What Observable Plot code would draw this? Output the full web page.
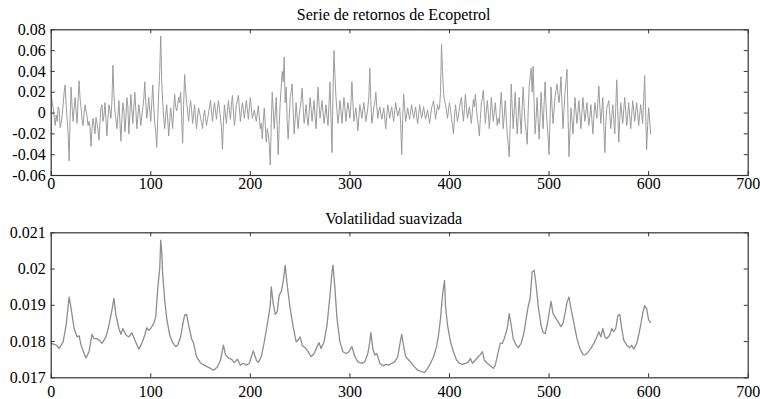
<!DOCTYPE html>
<html><head><meta charset="utf-8">
<script src="https://cdn.jsdelivr.net/npm/d3@7"></script>
<script src="https://cdn.jsdelivr.net/npm/@observablehq/plot@0.6"></script>
<style>
body{margin:0;background:#fff;}
#chart svg{display:block;}
#chart svg, #chart svg text{font-family:'Liberation Serif','Times New Roman',serif !important;font-variant:normal !important;}
</style></head><body><div id="chart"></div>
<script>
const title1 = "Serie de retornos de Ecopetrol";
const title2 = "Volatilidad suavizada";
const xTicks = [0, 100, 200, 300, 400, 500, 600, 700];
const retTicks = [-0.06, -0.04, -0.02, 0, 0.02, 0.04, 0.06, 0.08];
const volTicks = [0.017, 0.018, 0.019, 0.020, 0.021];

// returns (in thousandths), one value per observation starting at 0
const retMilli = [
  18, 10, 5, -4, -12, -2, -8, 6, 3, -14,
  -10, -2, 8, 20, 27, 8, -5, -20, -46, -5,
  25, 6, -8, 4, 15, 2, -10, 12, 31, 14,
  5, -6, -12, 0, 8, 2, -3, -12, -8, -14,
  -32, -15, -5, -12, -20, -4, -10, -16, -26, -8,
  5, 8, -8, -2, 10, -6, -22, -5, 8, 3,
  -5, 12, 46, 18, 2, -6, -15, -3, 12, -8,
  -27, -5, 10, 2, -18, -4, 15, 6, -20, -2,
  18, 4, -10, 6, 20, 3, -15, -4, 8, 0,
  -12, -3, 5, 14, 30, 10, -5, 4, 15, 2,
  -8, 10, 27, 6, -10, -18, -33, -6, 20, 40,
  74, 30, 10, -4, -15, -2, 8, -6, -22, -8,
  5, -4, -15, 4, 18, 6, 2, 8, 15, 10,
  20, -5, -29, 8, 37, 22, 10, 2, -8, 4,
  12, 3, -10, -2, 8, -5, -15, -3, 5, 1,
  -5, -9, -15, -4, 3, -5, -12, -6, 0, 6,
  12, 2, -8, 3, 10, 2, -6, 5, 12, 4,
  -5, -14, -35, -8, 8, -2, -10, 3, 12, 2,
  -6, 8, 17, 2, -12, -3, 8, 12, 17, 5,
  -8, 2, 10, 3, -5, 4, 12, 3, -6, 5,
  15, 5, -5, -1, 3, -3, -8, 0, 7, -4,
  -15, -10, -25, -8, 5, -12, -28, -15, -20, -30,
  -50, -10, 20, 2, -15, 0, 15, -12, -40, -12,
  10, 25, 40, 30, 54, 10, 25, -8, -25, -5,
  15, 20, 28, 2, -20, -6, 10, -4, -15, -3,
  5, 12, 24, 6, -10, -2, 8, -4, -12, 0,
  15, 4, -8, 2, 12, -3, -15, 6, 25, 8,
  -5, 3, 12, 1, -10, -2, 8, -4, -12, 8,
  30, -5, -38, 20, 60, 35, 15, 2, -10, 0,
  12, 2, -10, 3, 15, 4, -8, 2, 10, 3,
  -5, 8, 30, 10, -8, -2, 5, -6, -17, -4,
  8, 2, -5, 3, 10, 1, -8, -2, 5, 15,
  43, 12, -10, -3, 5, 10, 20, 6, -5, 2,
  6, 0, -6, -1, 5, -5, -15, -3, 8, 2,
  -5, 1, 6, -2, -8, 2, 10, 3, -3, 1,
  5, -10, -40, -6, 18, 5, -8, -2, 5, -1,
  -6, 2, 8, 1, -5, 0, 6, -3, -10, -2,
  8, 2, -5, 0, 6, 0, -6, -2, 3, -4,
  -10, -3, 5, 8, 12, 3, -6, 1, 8, 3,
  5, 20, 66, 40, 20, 12, 8, 2, -5, 3,
  10, 3, -5, -12, -20, -4, 8, 0, -8, -2,
  5, 10, 15, 2, -8, 4, 18, 6, -5, 0,
  6, -2, -10, 2, 13, 6, 18, 5, -5, -12,
  -22, -6, 10, 14, 22, 5, -10, 2, 12, 0,
  -15, -2, 15, 4, -8, 1, 10, -2, -12, -5,
  -10, 6, 20, 3, -15, -2, 12, -4, -20, -30,
  -42, -10, 28, 5, -15, 3, 20, -2, -20, -3,
  15, -4, -20, 5, 25, 6, -10, -18, -30, 0,
  25, 35, 43, 20, 45, 10, -20, -5, 15, -6,
  -25, -4, 20, 2, -15, 8, 30, 8, -10, -22,
  -40, -5, 25, 6, -10, 3, 15, 22, 28, 18,
  10, 20, 35, 8, -15, 2, 20, 30, 42, 0,
  -42, -18, 5, -6, -20, -4, 15, 2, -10, 1,
  12, -2, -15, 0, 15, 3, -8, 1, 10, -2,
  -12, -3, 8, -6, -20, -4, 10, 2, -5, 10,
  26, 6, -10, 3, 15, -12, -38, -10, 5, 8,
  12, -2, -15, -3, 8, -6, -20, 6, 32, 2,
  -28, -6, 10, 0, -10, 3, 15, 1, -12, -2,
  10, -3, -15, -2, 12, 2, -8, 1, 10, 0,
  -12, -2, 8, 0, -10, 12, 36, 0, -35, -12,
  5, -6, -20
];

const volX = [
  0,5,8,12,15,18,20,23,26,28,30,33,35,38,41,43,46,48,51,55,58,61,63,65,68,70,72,75,78,81,84,88,91,94,96,98,
  100,103,105,107,109,110,111,112,114,116,119,122,125,127,130,132,134,136,138,141,143,146,150,155,160,163,167,
  170,173,175,178,181,184,187,190,193,196,199,201,203,206,208,211,214,216,218,220,221,223,225,227,229,231,233,
  235,237,240,243,246,248,250,252,255,258,261,264,267,269,271,274,277,280,282,283,285,287,290,293,296,299,
  302,305,308,312,315,318,320,321,323,325,327,330,333,336,339,342,345,348,350,352,354,356,359,362,365,368,
  372,375,378,381,384,387,389,391,393,395,396,398,401,404,407,410,413,416,419,421,423,426,429,431,433,435,
  438,441,444,446,449,451,453,455,458,460,462,464,467,469,472,475,477,479,481,483,485,487,489,492,494,496,
  498,500,502,504,506,508,510,512,514,516,518,520,522,525,528,531,534,536,539,542,545,548,550,552,554,556,
  558,561,563,565,567,569,571,573,575,578,581,583,585,588,590,592,594,596,598,600,602
];
const volY = [
  .01795,.01790,.01781,.01799,.01845,.01923,.01891,.01836,.01813,.01816,.01790,.01767,.01755,.01772,.01820,.01808,.01808,.01804,.01795,.01813,.01845,.01887,.01919,.01873,.01836,.01820,.01836,.01818,.01813,.01824,.01804,.01779,.01795,.01818,.01838,.01831,
  .01836,.01850,.01868,.01946,.02002,.02080,.02048,.01983,.01914,.01864,.01818,.01797,.01786,.01790,.01813,.01845,.01873,.01875,.01845,.01808,.01795,.01758,.01741,.01733,.01726,.01721,.01730,
  .01749,.01790,.01764,.01755,.01751,.01742,.01751,.01735,.01740,.01735,.01740,.01758,.01774,.01749,.01742,.01758,.01799,.01831,.01864,.01900,.01951,.01905,.01875,.01882,.01928,.01937,.01965,
  .02011,.01956,.01891,.01841,.01799,.01804,.01813,.01790,.01783,.01772,.01758,.01767,.01786,.01797,.01781,.01799,.01845,.01928,.01992,.02011,.01946,.01864,.01799,.01772,.01767,.01772,
  .01786,.01758,.01744,.01740,.01744,.01767,.01799,.01825,.01781,.01763,.01767,.01740,.01733,.01737,.01735,.01740,.01744,.01758,.01790,.01820,.01786,.01758,.01749,.01740,.01730,.01721,
  .01717,.01715,.01726,.01740,.01758,.01786,.01818,.01864,.01928,.01969,.01900,.01845,.01799,.01772,.01749,.01740,.01737,.01740,.01744,.01753,.01740,.01749,.01758,.01764,.01772,.01749,
  .01740,.01733,.01726,.01735,.01772,.01795,.01795,.01808,.01836,.01877,.01845,.01808,.01790,.01783,.01795,.01827,.01864,.01896,.01918,.01992,.01997,.01956,.01900,.01845,.01825,.01822,
  .01845,.01877,.01911,.01877,.01868,.01859,.01850,.01841,.01850,.01877,.01908,.01923,.01891,.01850,.01808,.01781,.01764,.01763,.01770,.01781,.01795,.01813,.01827,.01813,.01836,.01813,
  .01808,.01818,.01836,.01827,.01836,.01871,.01875,.01836,.01804,.01790,.01783,.01790,.01779,.01795,.01818,.01845,.01877,.01899,.01891,.01860,.01853
];

const retData = retMilli.map((v, i) => ({t: i, r: v / 1000}));
const volData = volX.map((t, i) => ({t, v: volY[i]}));

const FONT = "'Liberation Serif', 'Times New Roman', serif";
const TICK = 4;

function panel({data, yKey, yDomain, yTicks, yFmt, title, height, mTop, mBottom, xPad, titleDy, stroke, sw}) {
  const mLeft = 50.7, mRight = 12.3;
  const frameH = height - mTop - mBottom;
  const frameW = 760 - mLeft - mRight;
  return Plot.plot({
    width: 760, height,
    marginLeft: mLeft, marginRight: mRight, marginTop: mTop, marginBottom: mBottom,
    style: {fontFamily: FONT, fontSize: "16px", color: "#000", background: "#fff"},
    x: {domain: [0, 700], ticks: xTicks, tickFormat: d => String(d), tickSize: 0, tickPadding: xPad, label: null},
    y: {domain: yDomain, ticks: yTicks, tickFormat: yFmt, tickSize: 0, tickPadding: 5.5, label: null},
    marks: [
      Plot.line(data, {x: "t", y: yKey, stroke, strokeWidth: sw}),
      Plot.tickX(xTicks, {x: d => d, insetTop: frameH - TICK, stroke: "#333"}),
      Plot.tickX(xTicks, {x: d => d, insetBottom: frameH - TICK, stroke: "#333"}),
      Plot.tickY(yTicks, {y: d => d, insetRight: frameW - TICK, stroke: "#333"}),
      Plot.tickY(yTicks, {y: d => d, insetLeft: frameW - TICK, stroke: "#333"}),
      Plot.frame({stroke: "#333", strokeWidth: 1.2}),
      Plot.text([title], {frameAnchor: "top", dy: titleDy, dx: -6, text: d => d, fontSize: 16, fill: "#000"})
    ]
  });
}

const p1 = panel({
  data: retData, yKey: "r", yDomain: [-0.06, 0.08], yTicks: retTicks,
  yFmt: d => String(+d.toFixed(2)), title: title1,
  height: 200, mTop: 29.3, mBottom: 25, xPad: 2.3, titleDy: -21, stroke: "#9c9c9c", sw: 1
});
const p2 = panel({
  data: volData, yKey: "v", yDomain: [0.017, 0.021], yTicks: volTicks,
  yFmt: d => String(+d.toFixed(3)), title: title2,
  height: 199, mTop: 32.3, mBottom: 21.7, xPad: 7.7, titleDy: -20.5, stroke: "#8e8e8e", sw: 1.3
});
const c = document.getElementById("chart");
c.appendChild(p1);
c.appendChild(p2);
</script></body></html>
